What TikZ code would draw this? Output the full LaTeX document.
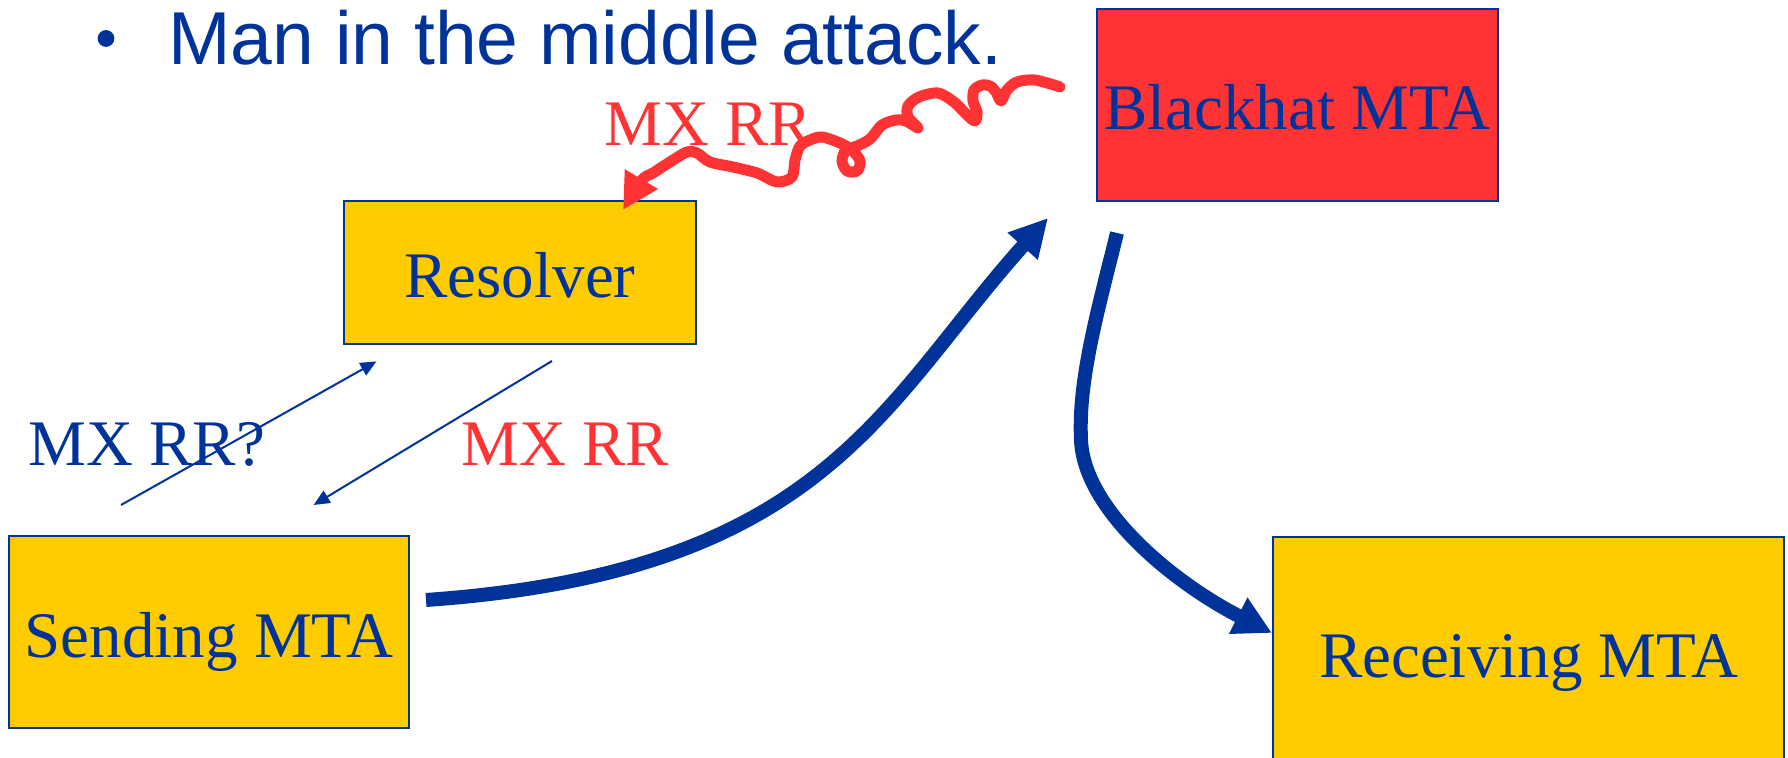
\documentclass[tikz,border=0pt]{standalone}
\usepackage{fontspec}
\setmainfont{Liberation Serif}
\newfontfamily\headfont{Liberation Sans}
\usetikzlibrary{arrows.meta}
\definecolor{mtablue}{HTML}{003399}
\definecolor{mtayellow}{HTML}{FFCC00}
\definecolor{mtared}{HTML}{FF3333}
\begin{document}
\begin{tikzpicture}[x=0.5pt,y=-0.5pt,
  box/.style={draw=mtablue, line width=0.9pt, inner sep=0pt, outer sep=0pt,
    text=mtablue, font=\fontsize{32.5}{38}\selectfont, text depth=0pt, text height=25pt},
  msglabel/.style={inner sep=0pt, anchor=base west, font=\fontsize{32.5}{38}\selectfont},
  query/.style={draw=mtablue, line width=1pt, -{Triangle[length=8pt,width=7pt]}},
  mail/.style={draw=mtablue, line width=7pt, -{Triangle[length=19pt,width=19pt]}},
  spoof/.style={draw=mtared, line width=5.5pt, line cap=round, line join=round,
    -{Triangle[length=18pt,width=18pt]}}
]
\useasboundingbox (0,0) rectangle (1788,758);
\clip (0,0) rectangle (1788,758);

% heading
\fill[mtablue] (106,38.5) circle (4.2pt);
\node[anchor=base west, inner sep=0pt, text=mtablue,
  font=\headfont\fontsize{37.5}{44}\selectfont] (title) at (168,64.5) {Man in the middle attack.};

% hosts
\node[box, fill=mtared, minimum width=200.5pt, minimum height=96pt] (black) at (1297.5,105) {Blackhat MTA};
\node[box, fill=mtayellow, minimum width=176pt, minimum height=71.5pt] (resolver) at (520,272.5) {Resolver};
\node[box, fill=mtayellow, minimum width=200pt, minimum height=96pt] (sender) at (209,632) {Sending MTA};
\node[box, fill=mtayellow, minimum width=255.5pt, minimum height=115pt] (receiver) at (1528.5,652) {Receiving MTA};

% message labels
\node[msglabel, text=mtablue] (ask) at (28,466) {MX RR?};
\node[msglabel, text=mtared] (answer) at (461,466) {MX RR};
\node[msglabel, text=mtared] (forged) at (604,146) {MX RR};

% DNS query and reply
\coordinate (qa) at (121,505);
\coordinate (qb) at (376.5,361.4);
\coordinate (ra) at (552,361);
\coordinate (rb) at (313.6,505);
\draw[query] (qa) -- (qb);
\draw[query] (ra) -- (rb);

% mail flow through the attacker
\coordinate (s0) at (426,600);
\coordinate (s1) at (1048,218);
\draw[mail] (s0) .. controls (825,572) and (881,404) .. (s1);
\coordinate (b0) at (1117,233);
\coordinate (b1) at (1081,440);
\coordinate (b2) at (1272,633);
\draw[mail] (b0) .. controls (1098,310) and (1078,380) .. (b1)
  .. controls (1084,510) and (1174,583) .. (b2);

% forged answer injected into the resolver
\draw[spoof] plot[smooth, tension=0.5] coordinates {
  (1060,87) (1035,80) (1017,82) (1007,90) (1001,101) (996,92) (990,86)
  (982,85) (974,90) (973,101) (977,112) (975,121) (966,114) (954,102)
  (938,93) (919,97) (908,106) (908,117) (918,128) (906,121) (896,120)
  (882,125) (870,139) (857,146) (846,150) (842,161) (847,171) (857,171)
  (860,161) (852,150) (840,143) (822,137) (810,140) (800,146) (795,160)
  (792,177) (777,182) (757,173) (733,167) (710,162) (697,153) (687,152)
  (670,162) (653,173) (642,180) (623,210)};
\end{tikzpicture}
\end{document}
